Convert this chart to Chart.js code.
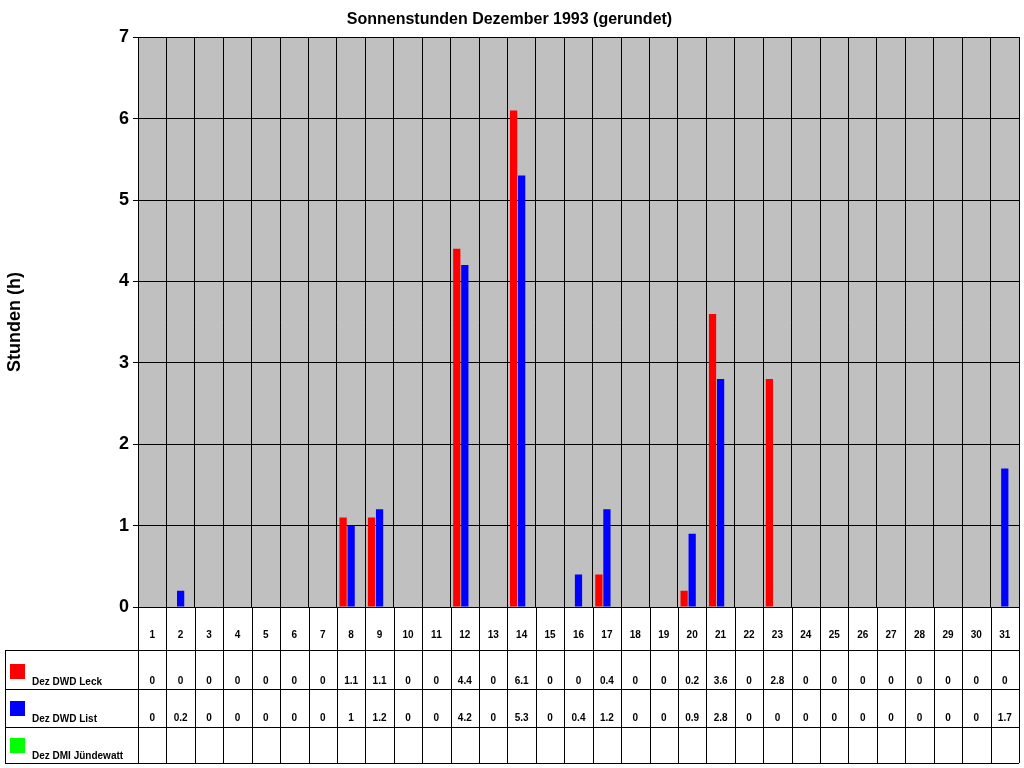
<!DOCTYPE html>
<html><head><meta charset="utf-8">
<script src="https://cdn.jsdelivr.net/npm/chart.js@4/dist/chart.umd.min.js"></script>
<style>html,body{margin:0;padding:0;background:#fff}#w{width:1024px;height:768px}</style>
</head><body><div id="w"><canvas id="c"></canvas></div>
<script>
const days = Array.from({length:31},(_,i)=>String(i+1));
const leck = [0,0,0,0,0,0,0,1.1,1.1,0,0,4.4,0,6.1,0,0,0.4,0,0,0.2,3.6,0,2.8,0,0,0,0,0,0,0,0];
const list = [0,0.2,0,0,0,0,0,1,1.2,0,0,4.2,0,5.3,0,0.4,1.2,0,0,0.9,2.8,0,0,0,0,0,0,0,0,0,1.7];
const dmi = days.map(()=>null);
const names = ['Dez DWD Leck','Dez DWD List','Dez DMI Jündewatt'];
const colors = ['#ff0000','#0000ff','#00ff00'];
const yTicks = [0,1,2,3,4,5,6,7];

const tablePlugin = {
  id:'tbl',
  beforeDraw(ch){
    const a=ch.chartArea, c=ch.ctx;
    c.save(); c.fillStyle='#c0c0c0'; c.fillRect(a.left,a.top,a.right-a.left,a.bottom-a.top); c.restore();
  },
  afterDraw(ch){
    const a=ch.chartArea, c=ch.ctx, x=ch.scales.x;
    const rows=[a.bottom,650,689,727,763];
    const w=(a.right-a.left)/31;
    c.save(); c.strokeStyle='#000'; c.lineWidth=1;
    c.beginPath();
    for(let i=0;i<=31;i++){const xx=Math.round(a.left+i*w)+0.5;c.moveTo(xx,a.bottom);c.lineTo(xx,rows[4]);}
    c.moveTo(5.5,rows[1]);c.lineTo(5.5,rows[4]);
    for(let r=1;r<5;r++){c.moveTo(5,rows[r]+0.5);c.lineTo(a.right,rows[r]+0.5);}
    c.moveTo(a.right+0.5,a.top);c.lineTo(a.right+0.5,rows[4]);
    c.stroke();
    c.fillStyle='#000'; c.font='bold 10px Arial, "Liberation Sans"'; c.textAlign='center'; c.textBaseline='middle';
    days.forEach((d,i)=>c.fillText(d,x.getPixelForValue(i),635));
    const data=[leck,list,dmi];
    const ys=[681,718,755];
    data.forEach((ds,r)=>{
      ds.forEach((v,i)=>{ if(v!==null) c.fillText(String(v),x.getPixelForValue(i),ys[r]); });
      c.fillStyle=colors[r]; c.fillRect(10,ys[r]-17,15,15);
      c.fillStyle='#000'; c.textAlign='left';
      c.fillText(names[r],32,ys[r]+1); c.textAlign='center';
    });
    c.restore();
  }
};

new Chart(document.getElementById('c'),{
  type:'bar',
  data:{labels:days,datasets:[
    {label:names[0],data:leck,backgroundColor:colors[0]},
    {label:names[1],data:list,backgroundColor:colors[1]},
    {label:names[2],data:dmi,backgroundColor:colors[2]}
  ]},
  options:{
    responsive:true,maintainAspectRatio:false,animation:false,
    categoryPercentage:0.85,barPercentage:0.9,
    layout:{padding:{left:0,right:5,top:0,bottom:161}},
    plugins:{legend:{display:false},tooltip:{enabled:false},
      title:{display:true,text:'Sonnenstunden Dezember 1993 (gerundet)',color:'#000',
        font:{family:'Arial, "Liberation Sans"',size:16,weight:'bold'},padding:{top:10,bottom:8}}},
    scales:{
      x:{grid:{color:'#000',offset:true,drawTicks:false},border:{color:'#000'},ticks:{display:false},
         afterFit(s){s.height=0;}},
      y:{min:0,max:7,afterBuildTicks(s){s.ticks=yTicks.map(v=>({value:v}));},
         grid:{color:'#000',drawTicks:true,tickLength:5},border:{color:'#000'},
         ticks:{color:'#000',font:{family:'Arial, "Liberation Sans"',size:18,weight:'bold'},padding:4},
         title:{display:true,text:'Stunden (h)',color:'#000',font:{family:'Arial, "Liberation Sans"',size:18,weight:'bold'}},
         afterFit(s){s.width=138;}}
    }
  },
  plugins:[tablePlugin]
});
</script></body></html>
